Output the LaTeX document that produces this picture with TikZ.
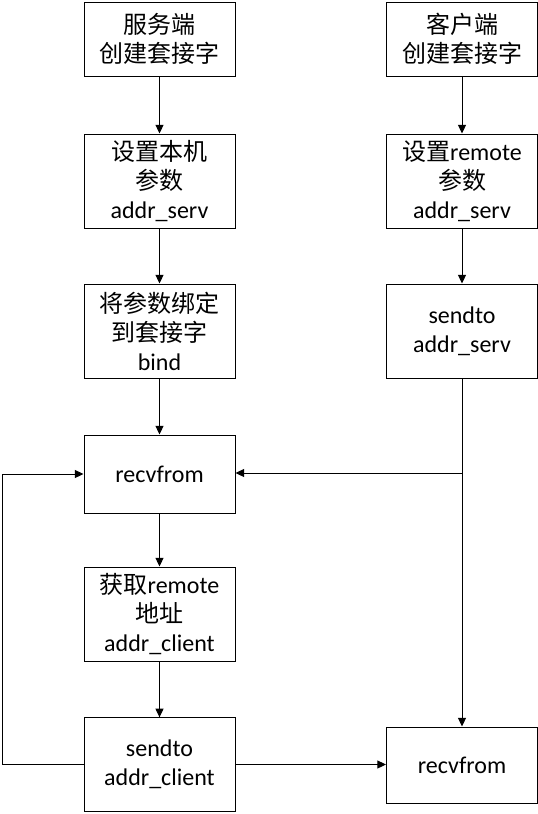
\documentclass[tikz,border=0pt]{standalone}
\usepackage{fontspec}
\setmainfont{Carlito}
\newfontfamily\cjk{Noto Sans CJK SC}
\usetikzlibrary{arrows.meta}
\begin{document}
\begin{tikzpicture}[x=0.75pt,y=-0.75pt,
  stepbox/.style={draw,line width=0.75pt,minimum width=113.25pt,align=center,
    inner sep=0pt,font=\fontsize{18}{21.75}\selectfont},
  link/.style={line width=0.75pt,-{Triangle[length=6.5pt,width=6pt]}}]
\useasboundingbox (0,0) rectangle (538,814);
% server side
\node[stepbox,minimum height=55.5pt] (srv) at (159.5,39) {{\cjk 服务端}\\{\cjk 创建套接字}};
\node[stepbox,minimum height=70.5pt] (srvparam) at (159.5,181) {{\cjk 设置本机}\\{\cjk 参数}\\addr\_serv};
\node[stepbox,minimum height=70.5pt] (bind) at (159.5,331) {{\cjk 将参数绑定}\\{\cjk 到套接字}\\bind};
\node[stepbox,minimum height=58.5pt] (srvrecv) at (159.5,474) {recvfrom};
\node[stepbox,minimum height=70.5pt] (getaddr) at (159.5,614) {{\cjk 获取}remote\\{\cjk 地址}\\addr\_client};
\node[stepbox,minimum height=70pt] (srvsend) at (159.5,764.5) {sendto\\addr\_client};
% client side
\node[stepbox,minimum height=55.5pt] (cli) at (462,39) {{\cjk 客户端}\\{\cjk 创建套接字}};
\node[stepbox,minimum height=70.5pt] (cliparam) at (462,181) {{\cjk 设置}remote\\{\cjk 参数}\\addr\_serv};
\node[stepbox,minimum height=70.5pt] (clisend) at (462,331) {sendto\\addr\_serv};
\node[stepbox,minimum height=57pt] (clirecv) at (462,765) {recvfrom};
\coordinate (fork) at (462,473);
\coordinate (loop) at (2,0);
% arrows
\draw[link] (srv) -- (srvparam);
\draw[link] (srvparam) -- (bind);
\draw[link] (bind) -- (srvrecv);
\draw[link] (srvrecv) -- (getaddr);
\draw[link] (getaddr) -- (srvsend);
\draw[link] (cli) -- (cliparam);
\draw[link] (cliparam) -- (clisend);
\draw[link] (clisend) -- (clirecv);
\draw[link] (fork) -- (srvrecv.east |- fork);
\draw[link] (srvsend.west) -- (loop |- srvsend.west) -- (loop |- srvrecv.west) -- (srvrecv.west);
\draw[link] (srvsend.east) -- (clirecv.west |- srvsend.east);
\end{tikzpicture}
\end{document}
